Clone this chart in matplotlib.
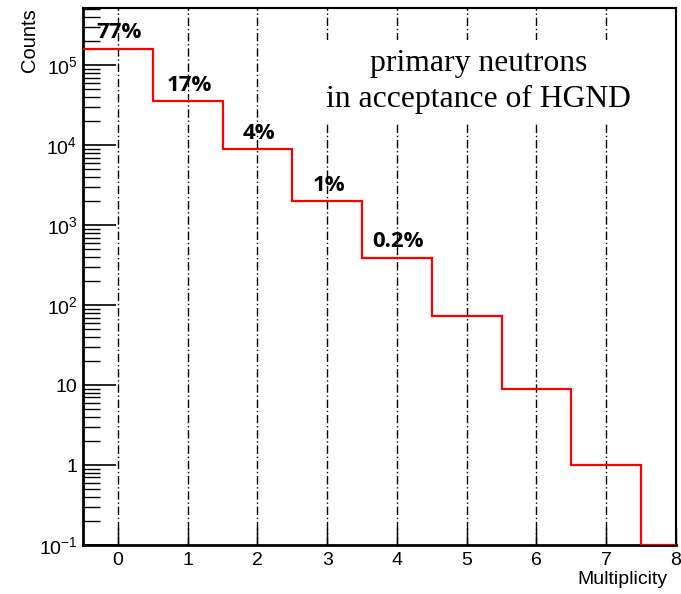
import numpy as np
import matplotlib.pyplot as plt
from matplotlib.ticker import FixedLocator, NullFormatter

# neutron multiplicity histogram (bin centres 0..8)
multiplicity = [0, 1, 2, 3, 4, 5, 6, 7, 8]
counts = [160000, 35500, 8900, 2000, 390, 73, 9, 1, 0]
pct_labels = ['77%', '17%', '4%', '1%', '0.2%']

y_min, y_max = 0.1, 5.2e5
major_ticks = [0.1, 1, 10, 100, 1e3, 1e4, 1e5]
major_labels = ['$10^{-1}$', '1', '10', '$10^{2}$', '$10^{3}$', '$10^{4}$', '$10^{5}$']

plt.rcParams['mathtext.fontset'] = 'custom'
plt.rcParams['mathtext.rm'] = 'Liberation Sans'
plt.rcParams['mathtext.it'] = 'Liberation Sans:italic'
plt.rcParams['font.family'] = 'Liberation Sans'

fig = plt.figure(figsize=(6.81, 5.94), dpi=100)
ax = fig.add_axes([0.1219, 0.0825, 0.8708, 0.904])

x = np.array(multiplicity, dtype=float)
edges = np.append(x - 0.5, x[-1] + 0.5)
vals = np.array(counts, dtype=float)
# empty bins sit on the bottom of the log axis
vals = np.where(vals > 0, vals, y_min)
ax.stairs(vals, edges, baseline=None, color='#ff0000', lw=1.6, zorder=3)

ax.set_yscale('log')
ax.set_ylim(y_min, y_max)
ax.set_xlim(-0.5, 8)

# vertical dash-dot grid
for xi in range(0, 8):
    ax.axvline(xi, color='black', lw=1.0, linestyle=(0, (6, 2, 1, 2)), zorder=1)

ax.yaxis.set_major_locator(FixedLocator(major_ticks))
ax.set_yticklabels(major_labels)
minors = [m * 10.0**d for d in range(-1, 6) for m in range(2, 10)]
ax.yaxis.set_minor_locator(FixedLocator(minors))
ax.yaxis.set_minor_formatter(NullFormatter())
ax.tick_params(axis='y', which='major', direction='in', length=24, width=1.2, labelsize=14, pad=4)
ax.tick_params(axis='y', which='minor', direction='in', length=12, width=1.0)

ax.set_xticks(range(0, 9))
ax.tick_params(axis='x', which='major', direction='in', length=12, width=1.0, labelsize=14, pad=5)

for side in ['left', 'bottom']:
    ax.spines[side].set_linewidth(2.0)
for side in ['top', 'right']:
    ax.spines[side].set_linewidth(1.5)

ax.set_ylabel('Counts', fontsize=14.5)
ax.yaxis.set_label_coords(-0.075, 1.0)
ax.yaxis.label.set_horizontalalignment('right')
ax.set_xlabel('Multiplicity', fontsize=14)
ax.xaxis.set_label_coords(0.985, -0.048)
ax.xaxis.label.set_horizontalalignment('right')

# fraction of events above the first few bins
for xi, c, lab in zip(multiplicity, counts, pct_labels):
    ax.annotate(lab, (xi, c), xytext=(1, 4), textcoords='offset points',
                ha='center', va='bottom', fontsize=16, fontweight='bold',
                family='Open Sans', zorder=4)

ax.text(0.667, 0.864, 'primary neutrons\nin acceptance of HGND',
        transform=ax.transAxes, ha='center', va='center', fontsize=22.8,
        family='Liberation Serif', linespacing=1.32, zorder=5,
        bbox=dict(facecolor='white', edgecolor='none', pad=6))

fig.savefig('out.png', dpi=100)
